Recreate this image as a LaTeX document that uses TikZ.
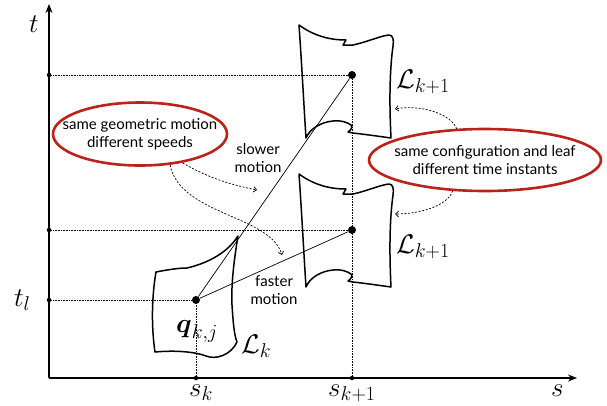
\RequirePackage{fix-cm}
\documentclass[tikz,border=0pt]{standalone}
\usepackage{amsmath}
\usepackage{fontspec}
\newfontfamily\notefont{Lato}
\DeclareMathSizes{27}{27}{20}{15}
\usetikzlibrary{arrows.meta,calc}
\definecolor{markred}{RGB}{185,35,25}

\begin{document}
\begin{tikzpicture}[x=1pt, y=-1pt,
  axis/.style={line width=1.6pt, -{Stealth[length=9pt,width=7pt]}},
  guide/.style={densely dotted, line width=0.6pt},
  motion/.style={line width=0.7pt},
  leaf/.style={line width=1.5pt, line join=round},
  pt/.style={circle, fill, inner sep=0pt, minimum size=8pt},
  tick/.style={circle, fill, inner sep=0pt, minimum size=4.5pt},
  lbl/.style={font=\fontsize{27}{32}\selectfont, inner sep=0pt, anchor=base west},
  note/.style={font=\notefont\fontsize{15}{18}\selectfont, align=center, inner sep=0pt},
  ring/.style={draw=markred, line width=2.6pt},
  hint/.style={dash pattern=on 2pt off 1.6pt, line width=0.7pt,
    -{Straight Barb[length=3pt,width=5.5pt]}},
  leafnext/.pic={
    \draw[leaf] (-53,-53) .. controls (-38,-42) and (-22,-38) .. (-6,-38)
      -- (-9,-33) -- (1,-33) .. controls (15,-36) and (28,-42) .. (37,-43)
      .. controls (41,-43) and (42,-38) .. (41,-32)
      .. controls (38,-10) and (37,20) .. (39,60)
      .. controls (25,58) and (10,56) .. (1,55) -- (-4,54)
      .. controls (-1,52) and (1,49) .. (-1,47)
      .. controls (-5,44) and (-12,42) .. (-19,43)
      .. controls (-30,44) and (-42,50) .. (-46,60)
      .. controls (-48,30) and (-50,-10) .. (-53,-53) -- cycle;
  }]
  \useasboundingbox (0,0) rectangle (607,405);

  % axes
  \coordinate (o) at (49,378);
  \coordinate (tend) at (49,4);
  \coordinate (send) at (577,378);
  \draw[axis] (o) -- (tend);
  \draw[axis] (o) -- (send);
  \node[lbl] (tlab) at (29,32) {$t$};
  \node[lbl] (slab) at (551,396) {$s$};

  % ticks
  \node[tick] (tu) at (49,75) {};
  \node[tick] (tm) at (49,230) {};
  \node[tick] (tl) at (49,300) {};
  \node[tick] (sk) at (196,378) {};
  \node[tick] (sk1) at (352,378) {};
  \node[lbl] (tllab) at (14,306) {$t_l$};
  \node[lbl] (sklab) at (189,396) {$s_k$};
  \node[lbl] (sk1lab) at (328,396) {$s_{k+1}$};

  % configurations
  \node[pt] (q) at (196,300) {};
  \node[pt] (pu) at (352,75) {};
  \node[pt] (pm) at (352,230) {};

  \draw[guide] (tu) -- (pu);
  \draw[guide] (tm) -- (pm);
  \draw[guide] (tl) -- (q);
  \draw[guide] (sk) -- (q);
  \draw[guide] (sk1) -- (pu);

  % leaves
  \begin{scope}[shift={(q)}]
    \draw[leaf] (-40,-28) .. controls (-25,-31) and (-15,-32) .. (-9,-32)
      .. controls (8,-36) and (30,-45) .. (42,-64)
      .. controls (38,-40) and (35,-15) .. (36,5)
      .. controls (37,20) and (38,35) .. (41,42)
      .. controls (35,55) and (20,60) .. (10,56)
      .. controls (0,52) and (-20,50) .. (-41,52)
      .. controls (-45,25) and (-44,-5) .. (-40,-28) -- cycle;
  \end{scope}
  \pic at ($(pu)+(0,3)$) {leafnext};
  \pic at ($(pm)+(0,-3)$) {leafnext};

  \node[lbl] (qlab) at (176,332) {$\boldsymbol{q}_{k,j}$};
  \node[lbl] (lk) at (241,353) {$\mathcal{L}_k$};
  \node[lbl] (lu) at (396,88) {$\mathcal{L}_{k+1}$};
  \node[lbl] (lm) at (396,253) {$\mathcal{L}_{k+1}$};

  % motions
  \draw[motion] (q) -- (pu);
  \draw[motion] (q) -- (pm);
  \node[note] (slow) at (258,158) {slower\\motion};
  \node[note] (fast) at (274,290) {faster\\motion};

  % remarks
  \node[note] (geo) at (140,134) {same geometric motion\\different speeds};
  \node[note] (same) at (485,160) {same configuration and leaf\\different time instants};
  \draw[ring] (geo) ellipse [x radius=87, y radius=31.5];
  \draw[ring] (same) ellipse [x radius=116, y radius=31];

  \coordinate (e1) at (257,190);
  \coordinate (e2) at (282,255);
  \coordinate (e3) at (395,109);
  \coordinate (e4) at (395,214);
  \draw[hint] ($(geo)+(-61:88pt and 33pt)$) .. controls +(25,15) and +(-25,-5) .. (e1);
  \draw[hint] ($(geo)+(-70:88pt and 33pt)$) .. controls +(10,50) and +(-12,-40) .. (e2);
  \draw[hint] ($(same)+(104:117pt and 32pt)$) .. controls +(-5,-15) and +(25,-5) .. (e3);
  \draw[hint] ($(same)+(-106:117pt and 32pt)$) .. controls +(-5,15) and +(25,0) .. (e4);
\end{tikzpicture}
\end{document}
